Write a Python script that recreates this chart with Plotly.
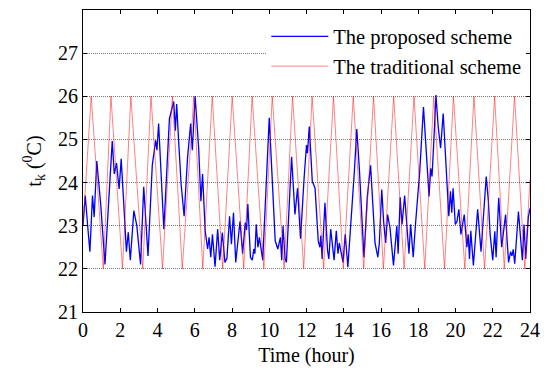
import plotly.graph_objects as go

# Proposed scheme (blue)
blue_t = [0.00, 0.12, 0.25, 0.37, 0.51, 0.60, 0.74, 0.95, 1.18, 1.57, 1.68, 1.80, 1.94, 2.05, 2.19, 2.33, 2.43, 2.54, 2.73, 2.89, 3.09,
          3.26, 3.49, 3.72, 3.90, 3.97, 4.06, 4.18, 4.34, 4.64, 4.74, 4.87, 4.96, 5.03, 5.13, 5.27, 5.43, 5.61, 5.78, 5.87, 6.02,
          6.21, 6.33, 6.42, 6.56, 6.69, 6.77, 6.86, 6.95, 7.09, 7.23, 7.34, 7.48, 7.62, 7.73, 7.87, 7.97, 8.08, 8.20, 8.43, 8.57, 8.71, 8.78, 8.85, 8.99,
          9.09, 9.17, 9.23, 9.30, 9.39, 9.47, 9.65, 10.00, 10.32, 10.46, 10.60, 10.67, 10.74, 10.85, 10.92, 11.20, 11.38, 11.52, 11.68, 11.87, 12.00, 12.05, 12.15,
          12.24, 12.31, 12.46, 12.54, 12.63, 12.72, 12.77, 12.84, 12.99, 13.13, 13.20, 13.30, 13.48, 13.60, 13.69, 13.76, 13.87, 13.96, 14.08, 14.22, 14.57, 14.70, 14.84, 14.96,
          15.085, 15.26, 15.44, 15.56, 15.68, 15.83, 15.91, 16.04, 16.14, 16.25, 16.355, 16.48, 16.57, 16.67, 16.85, 16.92, 17.03, 17.13, 17.27, 17.38, 17.50, 17.59, 17.73, 17.85, 18.08,
          18.28, 18.40, 18.58, 18.67, 18.74, 18.84, 18.95, 19.07, 19.20, 19.34, 19.48, 19.64, 19.73, 19.80, 19.87, 19.99, 20.08, 20.18, 20.29, 20.36, 20.47, 20.61, 20.68, 20.75, 20.82, 20.96,
          21.19, 21.37, 21.51, 21.65, 21.76, 21.86, 22.00, 22.11, 22.18, 22.32, 22.48, 22.57, 22.69, 22.78, 22.85, 22.96, 23.03, 23.10, 23.18, 23.38, 23.59, 23.68, 23.77, 23.91, 24.0]
blue_v = [23.0, 23.7, 23.0, 22.4, 23.7, 23.2, 24.5, 23.5, 22.1, 24.96, 24.2, 24.45, 23.85, 24.55, 23.5, 22.4, 22.85, 22.2, 23.35, 23.0, 22.1,
          23.9, 22.3, 24.4, 24.98, 24.75, 25.37, 24.3, 22.92, 25.48, 25.63, 25.88, 25.2, 25.82, 25.0, 23.95, 23.22, 24.56, 25.37, 24.75, 26.0,
          24.8, 23.57, 24.2, 22.88, 22.46, 22.73, 22.27, 22.8, 22.05, 22.92, 22.2, 22.84, 22.15, 22.25, 23.22, 22.57, 23.3, 22.15, 23.1, 22.35, 23.07, 22.9, 23.5, 22.27,
          22.2, 22.46, 22.35, 23.03, 22.5, 22.73, 22.2, 25.5, 22.65, 22.46, 22.73, 22.2, 23.0, 22.23, 22.15, 24.6, 23.26, 23.87, 22.7, 24.1, 24.87, 24.68, 25.3,
          24.6, 24.03, 23.87, 23.4, 22.65, 22.5, 22.77, 22.23, 23.53, 22.42, 22.23, 22.92, 22.2, 22.88, 22.35, 22.6, 22.38, 22.15, 22.8, 22.04, 24.26, 25.24, 24.3, 23.3,
          22.27, 23.65, 24.4, 23.5, 22.6, 22.27, 22.6, 23.84, 23.1, 22.6, 23.26, 22.96, 22.5, 22.08, 23.0, 22.35, 23.66, 23.03, 23.7, 22.95, 22.35, 23.03, 22.27, 23.03, 24.26,
          25.75, 25.0, 23.68, 24.33, 24.14, 25.0, 26.03, 25.3, 24.8, 25.6, 24.4, 23.22, 23.8, 23.3, 23.87, 23.03, 23.1, 23.38, 22.8, 23.0, 23.26, 22.5, 22.8, 22.23, 22.88, 22.08,
          23.38, 22.4, 23.4, 24.14, 23.6, 22.8, 22.2, 22.87, 22.27, 23.65, 22.5, 22.85, 23.26, 22.6, 22.15, 22.4, 22.3, 22.45, 22.12, 23.33, 22.2, 23.03, 22.23, 23.2, 23.4]

# Traditional scheme (red), vertices
red_t = [0.0, 0.44, 1.09, 1.50, 2.12, 2.57, 3.21, 3.65, 4.27, 4.80, 5.33, 5.95, 6.43, 6.94, 7.50, 8.01, 8.63, 9.08, 9.71, 10.16,
         10.80, 11.25, 11.85, 12.30, 12.92, 13.45, 13.98, 14.51, 15.07, 15.60, 16.13, 16.68, 17.24, 17.77, 18.35, 18.83, 19.41,
         19.89, 20.50, 20.99, 21.56, 22.10, 22.62, 23.17, 23.72, 24.0]
red_v = [23.0, 26, 22, 26, 22, 26, 22, 26, 22, 26, 22, 26, 22, 26, 22, 26, 22, 26, 22, 26,
         22, 26, 22, 26, 22, 26, 22, 26, 22, 26, 22, 26, 22, 26, 22, 26, 22,
         26, 22, 26, 22, 26, 22, 26, 22, 24.07]

x_ticks = [0, 2, 4, 6, 8, 10, 12, 14, 16, 18, 20, 22, 24]
y_ticks = [21, 22, 23, 24, 25, 26, 27]

assert len(blue_t) == len(blue_v)
assert len(red_t) == len(red_v)

FONT = "'Liberation Serif', 'Times New Roman', Times, serif"

fig = go.Figure()
fig.add_trace(go.Scatter(x=blue_t, y=blue_v, mode="lines", name="The proposed scheme",
                         line=dict(color="#0000ff", width=1.3)))
fig.add_trace(go.Scatter(x=red_t, y=red_v, mode="lines", name="The traditional scheme",
                         line=dict(color="rgba(255,0,0,0.7)", width=0.7)))

axis_common = dict(showline=True, linecolor="black", linewidth=1, mirror="ticks",
                   ticks="inside", ticklen=4, tickcolor="black", zeroline=False,
                   tickfont=dict(family=FONT, size=20, color="black"))

fig.update_xaxes(range=[0, 24], tickvals=x_ticks, showgrid=False,
                 title=dict(text="Time (hour)", font=dict(family=FONT, size=20, color="black"), standoff=7),
                 **axis_common)
fig.update_yaxes(range=[21, 28], tickvals=y_ticks, showgrid=True, gridcolor="#777777",
                 griddash="1px,1px", gridwidth=1,
                 title=dict(text="t<sub>k</sub> (<sup>0</sup>C)", font=dict(family=FONT, size=20, color="black"), standoff=11),
                 **axis_common)

fig.update_layout(
    width=549, height=371,
    margin=dict(l=83, r=13, t=9, b=58),
    paper_bgcolor="white", plot_bgcolor="white",
    showlegend=True,
    legend=dict(x=0.41, y=0.978, xanchor="left", yanchor="top",
                bgcolor="white", borderwidth=0, itemwidth=57,
                font=dict(family=FONT, size=20.5, color="black"), tracegroupgap=0),
)

fig.write_html("out.html", config={"displayModeBar": False})

# remove the default page margin so the figure sits at the window's top-left corner
with open("out.html", "r", encoding="utf-8") as f:
    html = f.read()
html = html.replace("<head>", "<head><style>html,body{margin:0;padding:0;overflow:hidden;}</style>", 1)
with open("out.html", "w", encoding="utf-8") as f:
    f.write(html)
